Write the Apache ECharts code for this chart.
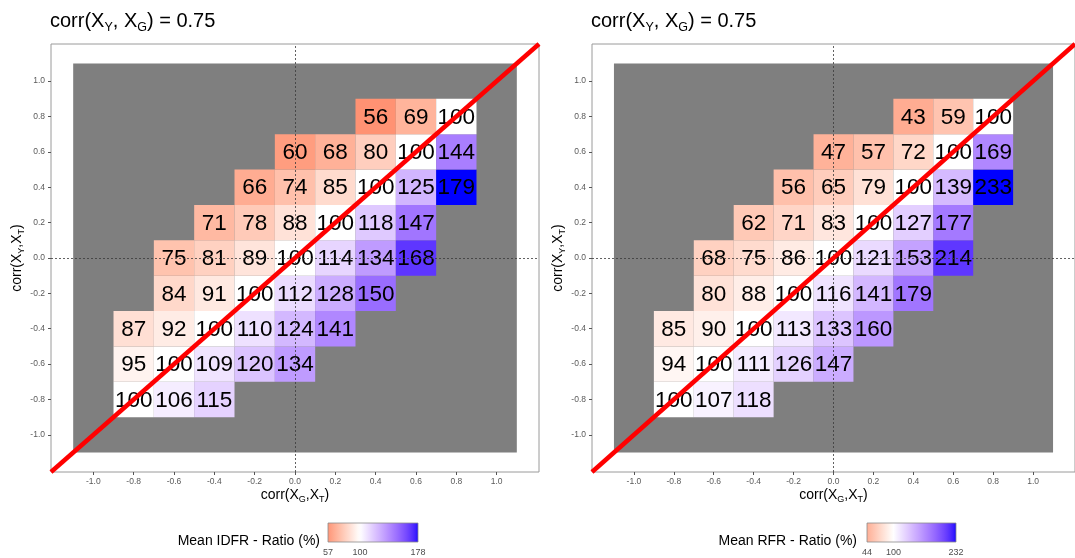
<!DOCTYPE html>
<html><head><meta charset="utf-8">
<script src="https://cdn.jsdelivr.net/npm/echarts@6/dist/echarts.min.js"></script>
<style>html,body{margin:0;padding:0;background:#fff;}#c{width:1075px;height:558px;}</style>
</head><body><div id="c"></div>
<script>
// ---------- data ----------
const corrValues = [-0.8, -0.6, -0.4, -0.2, 0, 0.2, 0.4, 0.6, 0.8]; // cell centres, both axes
// rows: corr(X_Y,X_T) from -0.8 (first) to 0.8 (last); columns: corr(X_G,X_T) from -0.8 to 0.8
const idfrRatio = [
  [100, 106, 115, null, null, null, null, null, null],
  [95, 100, 109, 120, 134, null, null, null, null],
  [87, 92, 100, 110, 124, 141, null, null, null],
  [null, 84, 91, 100, 112, 128, 150, null, null],
  [null, 75, 81, 89, 100, 114, 134, 168, null],
  [null, null, 71, 78, 88, 100, 118, 147, null],
  [null, null, null, 66, 74, 85, 100, 125, 179],
  [null, null, null, null, 60, 68, 80, 100, 144],
  [null, null, null, null, null, null, 56, 69, 100]
];
const rfrRatio = [
  [100, 107, 118, null, null, null, null, null, null],
  [94, 100, 111, 126, 147, null, null, null, null],
  [85, 90, 100, 113, 133, 160, null, null, null],
  [null, 80, 88, 100, 116, 141, 179, null, null],
  [null, 68, 75, 86, 100, 121, 153, 214, null],
  [null, null, 62, 71, 83, 100, 127, 177, null],
  [null, null, null, 56, 65, 79, 100, 139, 233],
  [null, null, null, null, 47, 57, 72, 100, 169],
  [null, null, null, null, null, null, 43, 59, 100]
];
const tickValues = [-1.0, -0.8, -0.6, -0.4, -0.2, 0, 0.2, 0.4, 0.6, 0.8, 1.0];
const tickLabels = ['-1.0', '-0.8', '-0.6', '-0.4', '-0.2', '0.0', '0.2', '0.4', '0.6', '0.8', '1.0'];
const axisLimits = [-1.21, 1.21];
const backgroundRange = [-1.1, 1.1];
const referenceLines = [0];           // dotted lines at corr = 0
const midpointRatio = 100;
const legendTicksIdfr = [57, 100, 178];
const legendTicksRfr = [44, 100, 232];
const legendTitles = ['Mean IDFR - Ratio (%)', 'Mean RFR - Ratio (%)'];
const panelTitle = 'corr(X{s|Y}, X{s|G}) = 0.75';
const xAxisTitle = 'corr(X{s|G},X{s|T})';
const yAxisTitle = 'corr(X{s|Y},X{s|T})';

// ---------- colour helpers (Lab interpolation red - white - blue) ----------
function toLin(c){ c/=255; return c<=0.04045 ? c/12.92 : Math.pow((c+0.055)/1.055,2.4); }
function fromLin(c){ const v = c<=0.0031308 ? 12.92*c : 1.055*Math.pow(c,1/2.4)-0.055; return Math.round(Math.max(0,Math.min(1,v))*255); }
function rgb2lab(rgb){
  const r=toLin(rgb[0]), g=toLin(rgb[1]), b=toLin(rgb[2]);
  const X=(0.4124*r+0.3576*g+0.1805*b)/0.95047, Y=(0.2126*r+0.7152*g+0.0722*b), Z=(0.0193*r+0.1192*g+0.9505*b)/1.08883;
  const f=t=> t>0.008856 ? Math.cbrt(t) : 7.787*t+16/116;
  const fx=f(X), fy=f(Y), fz=f(Z);
  return [116*fy-16, 500*(fx-fy), 200*(fy-fz)];
}
function lab2rgb(lab){
  const fy=(lab[0]+16)/116, fx=fy+lab[1]/500, fz=fy-lab[2]/200;
  const fi=f=>{ const c=f*f*f; return c>0.008856 ? c : (f-16/116)/7.787; };
  const X=fi(fx)*0.95047, Y=fi(fy), Z=fi(fz)*1.08883;
  const r= 3.2406*X-1.5372*Y-0.4986*Z, g=-0.9689*X+1.8758*Y+0.0415*Z, b=0.0557*X-0.2040*Y+1.0570*Z;
  return 'rgb('+fromLin(r)+','+fromLin(g)+','+fromLin(b)+')';
}
const labLow = rgb2lab([255,0,0]), labMid = rgb2lab([255,255,255]), labHigh = rgb2lab([0,0,255]);
function colourAt(s){ // s in [0,1], 0.5 = midpoint
  s=Math.max(0,Math.min(1,s));
  let a,b,t;
  if(s<0.5){a=labLow;b=labMid;t=s/0.5;} else {a=labMid;b=labHigh;t=(s-0.5)/0.5;}
  return lab2rgb([a[0]+(b[0]-a[0])*t, a[1]+(b[1]-a[1])*t, a[2]+(b[2]-a[2])*t]);
}
const rampStops = []; for(let i=0;i<=40;i++) rampStops.push(colourAt(i/40));

function flatten(m){
  const out=[]; m.forEach((row,ri)=>row.forEach((v,ci)=>{ if(v!==null) out.push([corrValues[ci], corrValues[ri], v]); }));
  return out;
}
function halfSpan(m){
  const vals=[].concat(...m).filter(v=>v!==null);
  return Math.max(midpointRatio-Math.min(...vals), Math.max(...vals)-midpointRatio);
}

const FONT = '"Liberation Sans", Arial, sans-serif';
const halfCell = (corrValues[1]-corrValues[0])/2;
const tickLabelOf = v => { const i = tickValues.findIndex(t=>Math.abs(t-v)<1e-9); return i>=0 ? tickLabels[i] : ''; };

const grids = [
  {left:51, top:44, width:488, height:428},
  {left:592, top:44, width:489, height:428}
];
const panels = [idfrRatio, rfrRatio];
const legendTicks = [legendTicksIdfr, legendTicksRfr];
const legendBars = [{x:328, y:523, w:90, h:19, textRight:320}, {x:867, y:523, w:89, h:19, textRight:857}];

const option = {
  animation:false,
  backgroundColor:'#fff',
  textStyle:{fontFamily:FONT},
  title: grids.map(g=>({
    text: panelTitle, left: g.left-1, top: 8, padding:0,
    textStyle:{fontSize:20, fontWeight:'normal', color:'#000', fontFamily:FONT, lineHeight:26,
      rich:{s:{fontSize:12.5, verticalAlign:'bottom', lineHeight:26, fontFamily:FONT, color:'#000'}}}
  })),
  grid: grids.map(g=>Object.assign({show:true, borderColor:'#9a9a9a', borderWidth:1, backgroundColor:'#fff', containLabel:false}, g)),
  xAxis: grids.map((g,i)=>({
    type:'value', gridIndex:i, min:axisLimits[0], max:axisLimits[1],
    splitLine:{show:false}, axisLine:{show:false, onZero:false},
    axisTick:{show:true, customValues:tickValues, length:3, lineStyle:{color:'#555', width:1}},
    axisLabel:{customValues:tickValues, formatter:tickLabelOf, fontSize:8.5, color:'#5a5a5a', margin:5, fontFamily:FONT},
    name:xAxisTitle, nameLocation:'middle', nameGap:14, nameMoveOverlap:false,
    nameTextStyle:{fontSize:14, color:'#000', fontFamily:FONT, lineHeight:18, verticalAlign:'top',
      rich:{s:{fontSize:9, verticalAlign:'bottom', lineHeight:18, fontFamily:FONT, color:'#000'}}}
  })),
  yAxis: grids.map((g,i)=>({
    type:'value', gridIndex:i, min:axisLimits[0], max:axisLimits[1],
    splitLine:{show:false}, axisLine:{show:false, onZero:false},
    axisTick:{show:true, customValues:tickValues, length:3, lineStyle:{color:'#555', width:1}},
    axisLabel:{customValues:tickValues, formatter:tickLabelOf, fontSize:8.5, color:'#5a5a5a', margin:6, fontFamily:FONT},
    name:yAxisTitle, nameLocation:'middle', nameGap:18, nameRotate:90,
    nameTextStyle:{fontSize:14, color:'#000', fontFamily:FONT, lineHeight:18,
      rich:{s:{fontSize:9, verticalAlign:'bottom', lineHeight:18, fontFamily:FONT, color:'#000'}}}
  })),
  visualMap: panels.map((m,i)=>{ const d=halfSpan(m); return {
    type:'continuous', show:false, seriesIndex: i*3+1, dimension:2,
    min: midpointRatio-d, max: midpointRatio+d, inRange:{color: rampStops}
  };}),
  series: [],
  graphic: []
};

panels.forEach((m,i)=>{
  // grey background area with dotted zero lines
  option.series.push({
    type:'custom', xAxisIndex:i, yAxisIndex:i, z:1, silent:true,
    data:[[backgroundRange[0], backgroundRange[1]]],
    renderItem:(p,api)=>{
      const a=api.coord([api.value(0), api.value(1)]), b=api.coord([api.value(1), api.value(0)]);
      return {type:'rect', shape:{x:a[0], y:a[1], width:b[0]-a[0], height:b[1]-a[1]}, style:{fill:'#7f7f7f'}};
    },
    markLine:{silent:true, symbol:'none', label:{show:false}, z:5,
      lineStyle:{type:[2,2], color:'#3a3a3a', width:0.8},
      data: referenceLines.map(v=>({xAxis:v})).concat(referenceLines.map(v=>({yAxis:v})))}
  });
  // heat cells
  option.series.push({
    type:'custom', xAxisIndex:i, yAxisIndex:i, z:2, silent:true,
    data: flatten(m),
    renderItem:(p,api)=>{
      const x=api.value(0), y=api.value(1), v=api.value(2);
      const a=api.coord([x-halfCell, y+halfCell]), b=api.coord([x+halfCell, y-halfCell]);
      return {type:'group', children:[
        {type:'rect', shape:{x:a[0], y:a[1], width:b[0]-a[0], height:b[1]-a[1]}, style:{fill:api.visual('color')}},
        {type:'text', z2:10, style:{text:String(v), x:(a[0]+b[0])/2, y:(a[1]+b[1])/2+1, align:'center', verticalAlign:'middle',
          fontSize:22.5, fontFamily:FONT, fill:'#000'}}
      ]};
    }
  });
  // identity line y = x
  option.series.push({
    type:'line', xAxisIndex:i, yAxisIndex:i, z:10, silent:true, symbol:'none',
    data:[[axisLimits[0], axisLimits[0]], [axisLimits[1], axisLimits[1]]],
    lineStyle:{color:'#ff0000', width:4.5}
  });

  // colour bar legend
  const lb = legendBars[i], tk = legendTicks[i], d = halfSpan(m);
  const lo = tk[0], hi = tk[tk.length-1];
  const stops = [];
  for(let k=0;k<=30;k++){ const v = lo+(hi-lo)*k/30; stops.push({offset:k/30, color: colourAt((v-(midpointRatio-d))/(2*d))}); }
  option.graphic.push({type:'text', x:lb.textRight, y:541,
    style:{text:legendTitles[i], align:'right', verticalAlign:'middle', fontSize:14, fontFamily:FONT, fill:'#000'}});
  option.graphic.push({type:'rect', shape:{x:lb.x, y:lb.y, width:lb.w, height:lb.h},
    style:{fill:{type:'linear', x:0, y:0, x2:1, y2:0, colorStops:stops}, stroke:'#8c8c8c', lineWidth:0.8}});
  tk.forEach(v=>{
    const px = lb.x + (v-lo)/(hi-lo)*lb.w;
    option.graphic.push({type:'text', x:px, y:lb.y+lb.h+11,
      style:{text:String(v), align:'center', verticalAlign:'middle', fontSize:9, fontFamily:FONT, fill:'#4d4d4d'}});
  });
});

const chart = echarts.init(document.getElementById('c'), null, {renderer:'canvas'});
chart.setOption(option);
</script></body></html>
